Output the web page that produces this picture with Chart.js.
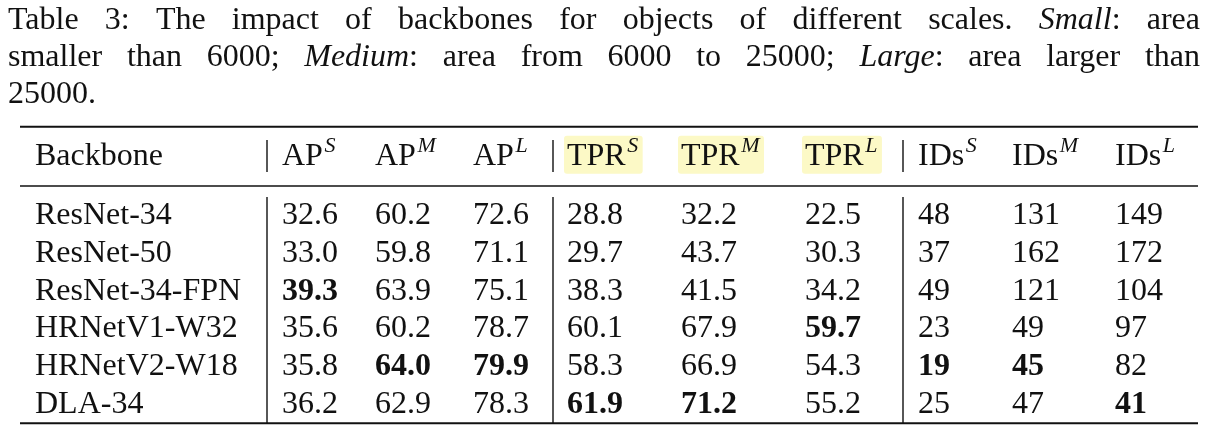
<!DOCTYPE html>
<html>
<head>
<meta charset="utf-8">
<script src="https://cdn.jsdelivr.net/npm/chart.js@4.4.1/dist/chart.umd.min.js"></script>
<style>
  html, body { margin: 0; padding: 0; background: #fff; }
</style>
</head>
<body>
<canvas id="chart" width="1210" height="441"></canvas>
<script>
// datos de la tabla
const backbones = ["ResNet-34", "ResNet-50", "ResNet-34-FPN", "HRNetV1-W32", "HRNetV2-W18", "DLA-34"];
const metricas = ["AP", "AP", "AP", "TPR", "TPR", "TPR", "IDs", "IDs", "IDs"];
const escalas = ["S", "M", "L", "S", "M", "L", "S", "M", "L"];
const apS = [32.6, 33.0, 39.3, 35.6, 35.8, 36.2];
const apM = [60.2, 59.8, 63.9, 60.2, 64.0, 62.9];
const apL = [72.6, 71.1, 75.1, 78.7, 79.9, 78.3];
const tprS = [28.8, 29.7, 38.3, 60.1, 58.3, 61.9];
const tprM = [32.2, 43.7, 41.5, 67.9, 66.9, 71.2];
const tprL = [22.5, 30.3, 34.2, 59.7, 54.3, 55.2];
const idsS = [48, 37, 49, 23, 19, 25];
const idsM = [131, 162, 121, 49, 45, 47];
const idsL = [149, 172, 104, 97, 82, 41];

// leyenda (cada palabra es una lista de trozos [texto, cursiva])
const leyenda = [
  [[["Table", 0]], [["3:", 0]], [["The", 0]], [["impact", 0]], [["of", 0]], [["backbones", 0]], [["for", 0]],
   [["objects", 0]], [["of", 0]], [["different", 0]], [["scales.", 0]], [["Small", 1], [":", 0]], [["area", 0]]],
  [[["smaller", 0]], [["than", 0]], [["6000;", 0]], [["Medium", 1], [":", 0]], [["area", 0]], [["from", 0]],
   [["6000", 0]], [["to", 0]], [["25000;", 0]], [["Large", 1], [":", 0]], [["area", 0]], [["larger", 0]], [["than", 0]]],
  [[["25000.", 0]]]
];

// maquetacion (unidades de la tabla, no datos)
const colX = [15, 262, 355, 453, 547, 661, 785, 898, 992, 1095];
const separadores = [247, 533, 883];
const anchoTabla = 1178;
const filaEnc = -1.569;
const reglaEnc = -0.744;
const inicioCuerpo = -0.452;
const encArriba = -1.968;
const encAbajo = -1.117;

const fuente = '"Liberation Serif", "DejaVu Serif", serif';
const tinta = "#111";
const tam = 32;
const tamSup = 22;

const columnas = [apS, apM, apL, tprS, tprM, tprL, idsS, idsM, idsL];

const celdas = [];
backbones.forEach((b, r) => {
  celdas.push({ x: colX[0], y: r, texto: b, negrita: false });
  columnas.forEach((col, c) => {
    const esIds = metricas[c] === "IDs";
    const mejor = esIds ? Math.min(...col) : Math.max(...col);
    const v = col[r];
    celdas.push({
      x: colX[c + 1],
      y: r,
      texto: esIds ? String(v) : v.toFixed(1),
      negrita: v === mejor,
    });
  });
});

const encabezados = [{ x: colX[0], y: filaEnc, texto: "Backbone" }];
metricas.forEach((m, c) => {
  encabezados.push({ x: colX[c + 1], y: filaEnc, texto: m, sup: escalas[c], resaltado: m === "TPR" });
});

function anchoEnc(c, d) {
  c.font = `${tam}px ${fuente}`;
  let w = c.measureText(d.texto).width;
  if (d.sup) {
    c.font = `italic ${tamSup}px ${fuente}`;
    w += 1 + c.measureText(d.sup).width;
  }
  return w;
}

const tablaPlugin = {
  id: "tabla",
  beforeDatasetsDraw(chart) {
    const c = chart.ctx;
    const yS = chart.scales.y;
    const meta = chart.getDatasetMeta(1);
    c.save();
    meta.data.forEach((pt, i) => {
      const d = chart.data.datasets[1].data[i];
      if (!d.resaltado) return;
      const w = anchoEnc(c, d);
      const arriba = yS.getPixelForValue(filaEnc - 0.51);
      const abajo = yS.getPixelForValue(filaEnc + 0.5);
      c.fillStyle = "#fcf9c6";
      c.beginPath();
      c.roundRect(pt.x - 3, arriba, w + 8, abajo - arriba, 3);
      c.fill();
    });
    c.restore();
  },
  afterDatasetsDraw(chart) {
    const c = chart.ctx;
    const xS = chart.scales.x;
    const yS = chart.scales.y;
    const izq = xS.getPixelForValue(0);
    const der = xS.getPixelForValue(anchoTabla);
    c.save();
    c.strokeStyle = tinta;

    // reglas horizontales
    const regla = (v, g) => {
      const y = yS.getPixelForValue(v);
      c.lineWidth = g;
      c.beginPath();
      c.moveTo(izq, y);
      c.lineTo(der, y);
      c.stroke();
    };
    regla(yS.min + 0.02, 2);
    regla(reglaEnc, 1.4);
    regla(yS.max - 0.02, 2);

    // separadores verticales
    c.lineWidth = 1.4;
    separadores.forEach((s) => {
      const x = xS.getPixelForValue(s);
      c.beginPath();
      c.moveTo(x, yS.getPixelForValue(encArriba));
      c.lineTo(x, yS.getPixelForValue(encAbajo));
      c.moveTo(x, yS.getPixelForValue(inicioCuerpo));
      c.lineTo(x, yS.getPixelForValue(yS.max));
      c.stroke();
    });

    // texto de celdas
    c.fillStyle = tinta;
    c.textBaseline = "alphabetic";
    c.textAlign = "left";
    chart.getDatasetMeta(0).data.forEach((pt, i) => {
      const d = chart.data.datasets[0].data[i];
      c.font = `${d.negrita ? "bold " : ""}${tam}px ${fuente}`;
      c.fillText(d.texto, pt.x, pt.y + 10.5);
    });
    chart.getDatasetMeta(1).data.forEach((pt, i) => {
      const d = chart.data.datasets[1].data[i];
      c.font = `${tam}px ${fuente}`;
      c.fillText(d.texto, pt.x, pt.y + 10.5);
      if (d.sup) {
        const w = c.measureText(d.texto).width;
        c.font = `italic ${tamSup}px ${fuente}`;
        c.fillText(d.sup, pt.x + w + 1.5, pt.y - 3);
      }
    });

    // leyenda justificada
    const x0 = 8, x1 = 1200;
    const bases = [29, 66, 103];
    leyenda.forEach((linea, li) => {
      const anchos = linea.map((pal) =>
        pal.reduce((s, [t, it]) => {
          c.font = `${it ? "italic " : ""}${tam}px ${fuente}`;
          return s + c.measureText(t).width;
        }, 0)
      );
      const total = anchos.reduce((a, b) => a + b, 0);
      const ultima = li === leyenda.length - 1;
      const hueco = ultima || linea.length < 2 ? 8 : (x1 - x0 - total) / (linea.length - 1);
      let x = x0;
      linea.forEach((pal) => {
        pal.forEach(([t, it]) => {
          c.font = `${it ? "italic " : ""}${tam}px ${fuente}`;
          c.fillText(t, x, bases[li]);
          x += c.measureText(t).width;
        });
        x += hueco;
      });
    });
    c.restore();
  },
};

const canvas = document.getElementById("chart");
const ctx = canvas.getContext("2d");

new Chart(ctx, {
  type: "scatter",
  data: {
    datasets: [
      { label: "celdas", data: celdas, pointRadius: 0, pointHoverRadius: 0 },
      { label: "encabezados", data: encabezados, pointRadius: 0, pointHoverRadius: 0 },
    ],
  },
  options: {
    responsive: false,
    animation: false,
    events: [],
    layout: { padding: { left: 20, right: 12, top: 126, bottom: 17 } },
    plugins: { legend: { display: false }, tooltip: { enabled: false } },
    scales: {
      x: { type: "linear", min: 0, max: anchoTabla, display: false },
      y: { type: "linear", reverse: true, min: -2.34, max: 5.585, display: false },
    },
  },
  plugins: [tablaPlugin],
});
</script>
</body>
</html>
